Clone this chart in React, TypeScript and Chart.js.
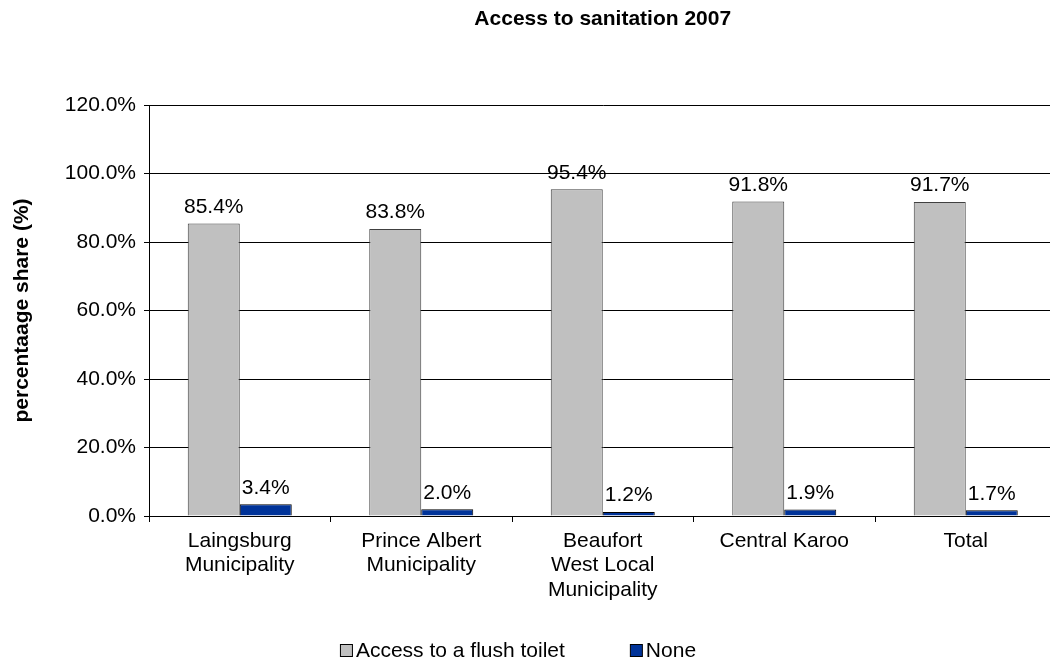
import React, { useEffect, useRef } from "react";
import { Chart, registerables } from "chart.js";

Chart.register(...registerables);

const categories: (string | string[])[] = [
  ["Laingsburg", "Municipality"],
  ["Prince Albert", "Municipality"],
  ["Beaufort", "West Local", "Municipality"],
  "Central Karoo",
  "Total",
];
const flushToilet = [85.4, 83.8, 95.4, 91.8, 91.7];
const noneValues = [3.4, 2.0, 1.2, 1.9, 1.7];
const seriesNames = ["Access to a flush toilet", "None"];
const chartTitle = "Access to sanitation 2007";
const yAxisTitle = "percentaage share (%)";
const yMin = 0;
const yMax = 120;
const yStep = 20;

const FONT = "'Liberation Sans', Arial, Helvetica, sans-serif";
const GRAY = "#C0C0C0";
const BLUE = "#003399";

const titlePlugin = {
  id: "customTitle",
  afterDraw(chart: any) {
    const { ctx, chartArea } = chart;
    ctx.save();
    ctx.font = `bold 21px ${FONT}`;
    ctx.fillStyle = "#000";
    ctx.textAlign = "center";
    ctx.textBaseline = "alphabetic";
    ctx.fillText(chartTitle, (chartArea.left + chartArea.right) / 2, 25);
    ctx.restore();
  },
};

const valueLabelPlugin = {
  id: "valueLabels",
  afterDatasetsDraw(chart: any) {
    const { ctx } = chart;
    ctx.save();
    ctx.font = `21px ${FONT}`;
    ctx.fillStyle = "#000";
    ctx.textAlign = "center";
    ctx.textBaseline = "alphabetic";
    chart.data.datasets.forEach((ds: any, i: number) => {
      const meta = chart.getDatasetMeta(i);
      meta.data.forEach((el: any, j: number) => {
        const v = ds.data[j];
        ctx.fillText(v.toFixed(1) + "%", el.x, el.y - 10.5);
      });
    });
    ctx.restore();
  },
};

const legendPlugin = {
  id: "customLegend",
  afterDraw(chart: any) {
    const { ctx } = chart;
    ctx.save();
    ctx.font = `21px ${FONT}`;
    ctx.textBaseline = "alphabetic";
    ctx.textAlign = "left";
    const box = 13;
    const gapText = 3;
    const gapItems = 65;
    const colors = [GRAY, BLUE];
    const widths = seriesNames.map((n) => box + gapText + ctx.measureText(n).width);
    const total = widths.reduce((a, b) => a + b, 0) + gapItems * (widths.length - 1);
    let x = 518 - total / 2;
    const baseY = 657;
    seriesNames.forEach((n, i) => {
      ctx.fillStyle = colors[i];
      ctx.fillRect(x + 0.5, baseY - box + 0.5, box - 1, box - 1);
      ctx.strokeStyle = "#000";
      ctx.lineWidth = 1;
      ctx.strokeRect(x + 0.5, baseY - box + 0.5, box - 1, box - 1);
      ctx.fillStyle = "#000";
      ctx.fillText(n, x + box + gapText, baseY);
      x += widths[i] + gapItems;
    });
    ctx.restore();
  },
};

export default function App() {
  const canvasRef = useRef<HTMLCanvasElement | null>(null);

  useEffect(() => {
    if (!canvasRef.current) return;
    const chart = new Chart(canvasRef.current, {
      type: "bar",
      data: {
        labels: categories,
        datasets: [
          {
            label: seriesNames[0],
            data: flushToilet,
            backgroundColor: GRAY,
            borderColor: "#404040",
            borderWidth: 1,
            barPercentage: 1,
            categoryPercentage: 0.573,
          },
          {
            label: seriesNames[1],
            data: noneValues,
            backgroundColor: BLUE,
            borderColor: "#000000",
            borderWidth: 1,
            barPercentage: 1,
            categoryPercentage: 0.573,
          },
        ],
      },
      options: {
        responsive: false,
        animation: false,
        layout: { padding: { left: 0, right: 9.5, top: 105, bottom: 0 } },
        plugins: {
          legend: { display: false },
          title: { display: false },
          tooltip: { enabled: false },
        },
        scales: {
          x: {
            grid: {
              offset: true,
              drawOnChartArea: false,
              drawTicks: true,
              tickLength: 6,
              color: "#000",
            },
            border: { display: true, color: "#000", width: 1 },
            ticks: {
              font: { family: FONT, size: 21, lineHeight: 1.16 },
              color: "#000",
              padding: 7,
              maxRotation: 0,
              autoSkip: false,
            },
            afterFit(scale: any) {
              scale.height = 147;
            },
          },
          y: {
            min: yMin,
            max: yMax,
            ticks: {
              stepSize: yStep,
              font: { family: FONT, size: 21 },
              color: "#000",
              padding: 8,
              callback: (v: any) => Number(v).toFixed(1) + "%",
            },
            grid: { color: "#000", tickLength: 5, drawTicks: true },
            border: { display: true, color: "#000", width: 1 },
            title: {
              display: true,
              text: yAxisTitle,
              font: { family: FONT, size: 21, weight: "bold" },
              color: "#000",
              padding: { top: 10, bottom: 0 },
            },
            afterFit(scale: any) {
              scale.width = 149;
            },
          },
        },
      },
      plugins: [titlePlugin, valueLabelPlugin, legendPlugin],
    });
    return () => chart.destroy();
  }, []);

  return (
    <div
      style={{
        position: "absolute",
        left: 0,
        top: 0,
        width: 1050,
        height: 663,
        overflow: "hidden",
        background: "#fff",
      }}
    >
      <canvas ref={canvasRef} width={1066} height={663} style={{ display: "block" }} />
    </div>
  );
}
